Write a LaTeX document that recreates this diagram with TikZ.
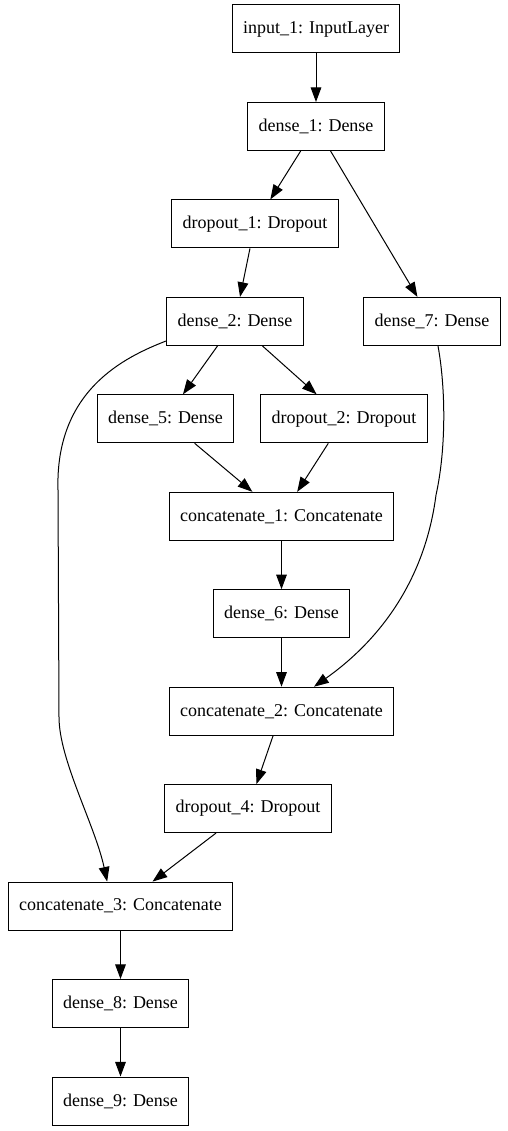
\documentclass[tikz,border=0pt]{standalone}
\usepackage{fontspec}
\setmainfont{Liberation Serif}
\usetikzlibrary{arrows.meta}

\begin{document}
\begin{tikzpicture}%
[x=0.75pt, y=-0.75pt,%
layer/.style={draw, line width=0.75pt, shape=rectangle, inner xsep=8.25pt, inner ysep=0pt, minimum height=36pt, font=\fontsize{13.5}{16}\selectfont},%
link/.style={draw, line width=0.75pt, -{Triangle[length=11pt, width=8pt]}}]

\useasboundingbox (0,0) rectangle (507,1131);

\node[layer] (input1) at (316,29) {input\_1: InputLayer};
\node[layer] (dense1) at (316,126.5) {dense\_1: Dense};
\node[layer] (dropout1) at (255,223.9) {dropout\_1: Dropout};
\node[layer] (dense2) at (235,321.4) {dense\_2: Dense};
\node[layer] (dense7) at (432,321.4) {dense\_7: Dense};
\node[layer] (dense5) at (165.5,418.8) {dense\_5: Dense};
\node[layer] (dropout2) at (344,418.8) {dropout\_2: Dropout};
\node[layer] (concat1) at (281.5,516.3) {concatenate\_1: Concatenate};
\node[layer] (dense6) at (281.5,613.7) {dense\_6: Dense};
\node[layer] (concat2) at (281.5,711.2) {concatenate\_2: Concatenate};
\node[layer] (dropout4) at (248,808.6) {dropout\_4: Dropout};
\node[layer] (concat3) at (120.5,906.1) {concatenate\_3: Concatenate};
\node[layer] (dense8) at (120.5,1003.5) {dense\_8: Dense};
\node[layer] (dense9) at (120.5,1101) {dense\_9: Dense};

\draw[link] (input1) -- (dense1);
\draw[link] (dense1) -- (dropout1);
\draw[link] (dense1) -- (dense7);
\draw[link] (dropout1) -- (dense2);
\draw[link] (dense2) -- (dense5);
\draw[link] (dense2) -- (dropout2);
\draw[link] (dense5) -- (concat1);
\draw[link] (dropout2) -- (concat1);
\draw[link] (concat1) -- (dense6);
\draw[link] (dense6) -- (concat2);
\draw[link] ([xshift=4.5pt]dense7.south) .. controls (446,390) and (446,450) .. (436,495)
  .. controls (425,580) and (380,640) .. ([xshift=24.4pt]concat2.north);
\draw[link] (concat2) -- (dropout4);
\draw[link] (dropout4) -- (concat3);
\draw[link] ([yshift=-14.7pt]dense2.west) .. controls (125,357) and (55,390) .. (58,490)
  -- (59,717) .. controls (59,760) and (95,825) .. ([xshift=-10pt]concat3.north);
\draw[link] (concat3) -- (dense8);
\draw[link] (dense8) -- (dense9);
\end{tikzpicture}
\end{document}
